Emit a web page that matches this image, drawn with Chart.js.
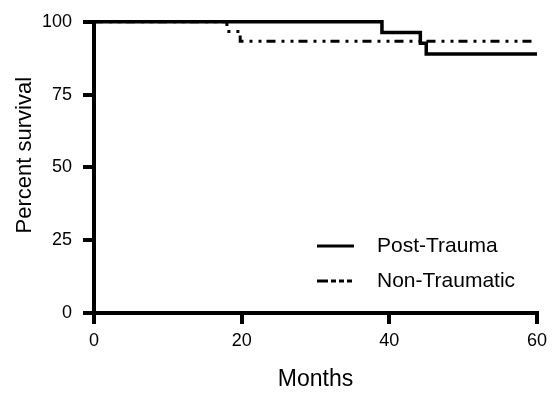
<!DOCTYPE html>
<html>
<head>
<meta charset="utf-8">
<script src="https://cdn.jsdelivr.net/npm/chart.js@4.4.1/dist/chart.umd.min.js"></script>
<style>
  html, body { margin: 0; padding: 0; background: #fff; }
</style>
</head>
<body>
<canvas id="survivalChart" width="554" height="393"></canvas>
<script>
// Kaplan-Meier steps: month of each event and percent survival after it
var seriesNames = ['Post-Trauma', 'Non-Traumatic'];
var postTraumaMonths = [0, 39, 44.2, 45, 60];
var postTraumaSurvival = [100, 96.3, 92.6, 88.9, 88.9];
var nonTraumaticMonths = [0, 18, 19.8, 60];
var nonTraumaticSurvival = [100, 96.7, 93.3, 93.3];
var xTicks = [0, 20, 40, 60];
var yTicks = [0, 25, 50, 75, 100];

function toPoints(xs, ys) {
  var pts = [];
  for (var i = 0; i < xs.length; i++) {
    pts.push({x: xs[i], y: ys[i]});
  }
  return pts;
}

var fontFamily = '"Liberation Sans", Arial, sans-serif';
Chart.defaults.font.family = fontFamily;
Chart.defaults.color = '#000';

// legend sits inside the plot, lower right
var insideLegend = {
  id: 'insideLegend',
  afterDraw: function(chart) {
    var ctx = chart.ctx;
    ctx.save();
    chart.data.datasets.forEach(function(ds, i) {
      var y = 246 + i * 35;
      ctx.strokeStyle = '#000';
      ctx.lineWidth = 3;
      ctx.setLineDash(ds.legendDash);
      ctx.beginPath();
      ctx.moveTo(317, y);
      ctx.lineTo(354, y);
      ctx.stroke();
      ctx.setLineDash([]);
      ctx.fillStyle = '#000';
      ctx.font = '21px ' + fontFamily;
      ctx.textBaseline = 'middle';
      ctx.textAlign = 'left';
      ctx.fillText(ds.label, 377, y);
    });
    ctx.restore();
  }
};

function axisGrid() {
  return {
    drawOnChartArea: false,
    drawTicks: true,
    tickLength: 11,
    tickWidth: function() { return 4; },
    tickColor: '#000',
    color: '#000',
    lineWidth: 4
  };
}

var chart = new Chart(document.getElementById('survivalChart'), {
  type: 'line',
  data: {
    datasets: [
      {
        label: seriesNames[0],
        data: toPoints(postTraumaMonths, postTraumaSurvival),
        borderColor: '#000',
        borderWidth: 3.5,
        stepped: 'before',
        pointRadius: 0,
        fill: false,
        clip: false,
        order: 0,
        legendDash: []
      },
      {
        label: seriesNames[1],
        data: toPoints(nonTraumaticMonths, nonTraumaticSurvival),
        borderColor: '#000',
        borderWidth: 3,
        borderDash: [9, 6, 3, 6, 3, 5],
        stepped: 'before',
        pointRadius: 0,
        fill: false,
        clip: false,
        order: 1,
        legendDash: [11, 3, 5, 3, 5, 3, 5, 100]
      }
    ]
  },
  options: {
    responsive: false,
    animation: false,
    devicePixelRatio: 1,
    layout: { padding: { top: 21.5, right: 17, left: 0, bottom: 0 } },
    plugins: {
      legend: { display: false },
      tooltip: { enabled: false }
    },
    scales: {
      x: {
        type: 'linear',
        min: 0,
        max: 60,
        afterBuildTicks: function(scale) {
          scale.ticks = xTicks.map(function(v) { return {value: v}; });
        },
        afterFit: function(scale) { scale.height = 80; },
        grid: axisGrid(),
        border: { display: true, color: '#000', width: 4 },
        ticks: { font: { size: 18 }, padding: 6, maxRotation: 0 },
        title: {
          display: true,
          text: 'Months',
          font: { size: 23, lineHeight: 1 },
          padding: { top: 0, bottom: 2 }
        }
      },
      y: {
        type: 'linear',
        min: 0,
        max: 100,
        afterBuildTicks: function(scale) {
          scale.ticks = yTicks.map(function(v) { return {value: v}; });
        },
        afterFit: function(scale) { scale.width = 94; },
        grid: axisGrid(),
        border: { display: true, color: '#000', width: 4 },
        ticks: { font: { size: 18 }, padding: 11 },
        title: {
          display: true,
          // leading spaces lift the centred title a little, as in the original
          text: '    Percent survival',
          font: { size: 22, lineHeight: 1 },
          padding: { top: 14, bottom: 0 }
        }
      }
    }
  },
  plugins: [insideLegend]
});
</script>
</body>
</html>
